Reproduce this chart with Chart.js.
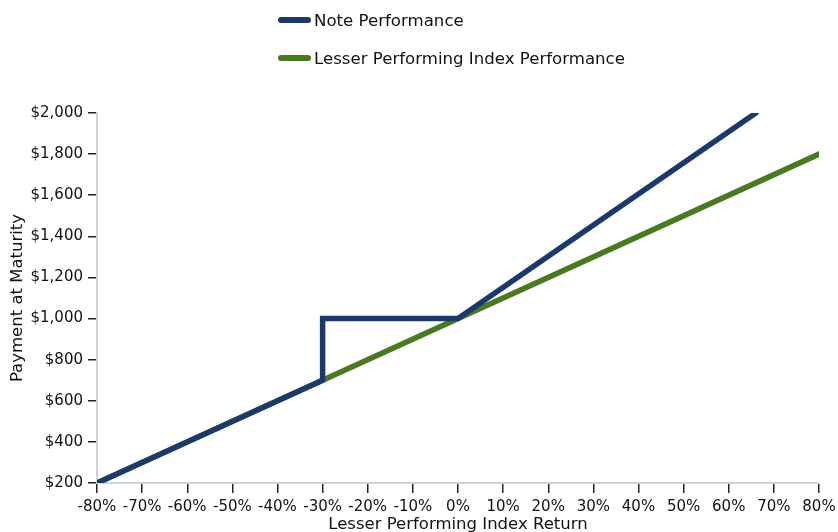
<!DOCTYPE html>
<html>
<head>
<meta charset="utf-8">
<script src="https://cdn.jsdelivr.net/npm/chart.js@4.4.1/dist/chart.umd.min.js"></script>
<style>
  html, body { margin: 0; padding: 0; background: #fff; }
  #wrap { position: relative; width: 838px; height: 532px; overflow: hidden; }
  #legend { position: absolute; left: 278px; top: 8px; font-family: "DejaVu Sans", sans-serif; font-size: 16.6px; color: #111; }
  .item { display: flex; align-items: center; height: 24px; margin-bottom: 14px; }
  .swatch { width: 33px; height: 6px; border-radius: 3px; margin-right: 3px; }
</style>
</head>
<body>
<div id="wrap">
  <canvas id="chart" width="838" height="532"></canvas>
  <div id="legend"></div>
</div>
<script>
// Series vertices (x = index return %, y = payment $)
const noteX = [-80, -30, -30, 0, 66];
const noteY = [200, 700, 1000, 1000, 2000];
const indexX = [-80, 80];
const indexY = [200, 1800];

const seriesNames = ['Note Performance', 'Lesser Performing Index Performance'];
const seriesColors = ['#1b3a6b', '#4a7a1f'];

function pts(xs, ys) {
    return xs.map((x, i) => ({ x: x, y: ys[i] }));
}

// legend drawn as plain html, one item per row
const legend = document.getElementById('legend');
seriesNames.forEach((name, i) => {
    const row = document.createElement('div');
    row.className = 'item';
    row.innerHTML = '<span class="swatch" style="background:' + seriesColors[i] + '"></span><span>' + name + '</span>';
    legend.appendChild(row);
});

const font = { family: 'DejaVu Sans', size: 15 };
const titleFont = { family: 'DejaVu Sans', size: 16.5 };

const ctx = document.getElementById('chart').getContext('2d');
new Chart(ctx, {
    type: 'line',
    data: {
        datasets: [{
            label: seriesNames[0],
            data: pts(noteX, noteY),
            borderColor: seriesColors[0],
            borderWidth: 5.5,
            borderCapStyle: 'round',
            borderJoinStyle: 'miter',
            pointRadius: 0,
            tension: 0
        }, {
            label: seriesNames[1],
            data: pts(indexX, indexY),
            borderColor: seriesColors[1],
            borderWidth: 5.5,
            borderCapStyle: 'round',
            pointRadius: 0,
            tension: 0
        }]
    },
    options: {
        responsive: false,
        animation: false,
        layout: { padding: { top: 113, left: 8, right: 0, bottom: 0 } },
        plugins: {
            legend: { display: false },
            tooltip: { enabled: false }
        },
        scales: {
            x: {
                type: 'linear',
                min: -80,
                max: 80,
                afterFit: s => { s.height = 49; s.paddingRight = 19; },
                ticks: {
                    stepSize: 10,
                    color: '#111',
                    font: font,
                    padding: 5,
                    maxRotation: 0,
                    callback: v => v + '%'
                },
                grid: { drawOnChartArea: false, color: '#222', tickLength: 10, lineWidth: 1.5 },
                border: { color: '#cfd3da', width: 2 },
                title: {
                    display: true,
                    text: 'Lesser Performing Index Return',
                    color: '#111',
                    font: titleFont,
                    padding: { top: 0, bottom: -3 }
                }
            },
            y: {
                min: 200,
                max: 2000,
                afterFit: s => { s.width = 89; },
                ticks: {
                    stepSize: 200,
                    color: '#111',
                    font: font,
                    padding: 5,
                    callback: v => '$' + v.toLocaleString('en-US')
                },
                grid: { drawOnChartArea: false, color: '#222', tickLength: 9, lineWidth: 1.5 },
                border: { color: '#cfd3da', width: 2 },
                title: {
                    display: true,
                    text: 'Payment at Maturity',
                    color: '#111',
                    font: titleFont,
                    padding: { top: 0, bottom: 0 }
                }
            }
        }
    }
});
</script>
</body>
</html>
